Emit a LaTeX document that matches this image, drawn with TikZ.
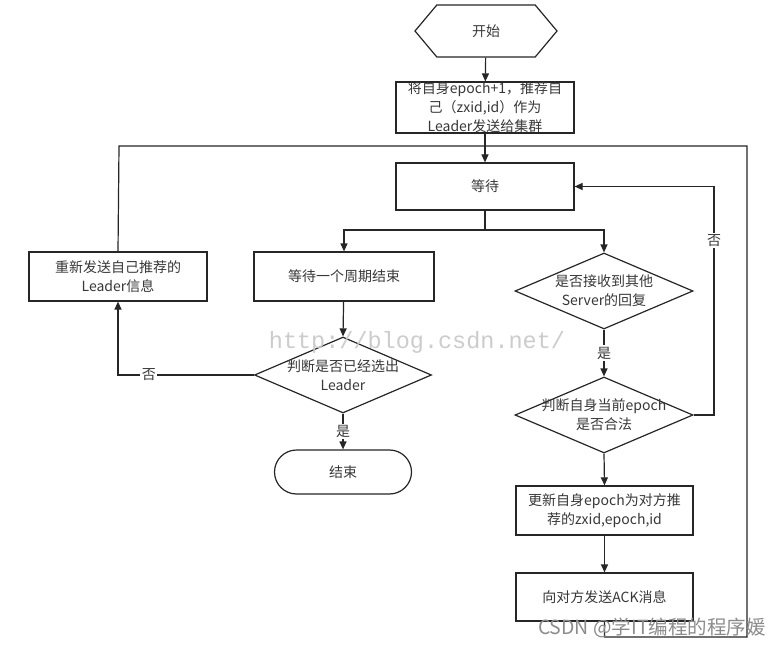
\documentclass[tikz,border=0pt]{standalone}
\usepackage{fontspec}
\setmainfont{Noto Sans CJK SC}
\newfontfamily\wmfont{Liberation Mono}
\usetikzlibrary{shapes.geometric,shapes.misc,shapes.symbols,arrows.meta}
\begin{document}
\begin{tikzpicture}[x=1pt,y=-1pt,
  every node/.style={inner sep=0pt, align=center, text=black!78, font=\fontsize{14}{19}\selectfont},
  box/.style={draw=black!85, line width=1.2pt, minimum width=178pt, minimum height=48pt, fill=white},
  dia/.style={diamond, draw=black!85, line width=1.2pt, minimum width=178pt, minimum height=76pt, fill=white},
  conn/.style={draw=black!85, line width=1.2pt},
  arr/.style={conn, -{Triangle[length=8pt,width=7pt]}},
  lbl/.style={fill=white, inner sep=1.5pt},
]
\useasboundingbox (0,0) rectangle (779,647);
\fill[white] (0,0) rectangle (779,647);

% nodes
\node[signal, signal to=east and west, signal pointer angle=100, draw=black!85, line width=1.2pt,
      minimum width=142pt, minimum height=52pt, fill=white] (start) at (486,31) {开始};
\node[box, minimum height=49pt] (b1) at (485,107.5) {将自身epoch+1，推荐自\\己（zxid,id）作为\\Leader发送给集群};
\node[box, minimum height=47pt] (wait) at (485,186.5) {等待};
\node[box, minimum width=180pt, minimum height=49pt] (period) at (344,276.5) {等待一个周期结束};
\node[box, minimum height=49pt] (retry) at (118,276.5) {重新发送自己推荐的\\Leader信息};
\node[dia, minimum width=177pt] (d1) at (343,375) {};
\node at (d1) {判断是否已经选出\\Leader};
\node[rounded rectangle, draw=black!85, line width=1.2pt, minimum width=137pt, minimum height=44pt, fill=white] (end) at (343,472) {结束};
\node[dia] (d2) at (604,291) {};
\node at (d2) {是否接收到其他\\Server的回复};
\node[dia] (d3) at (604,415) {};
\node at (d3) {判断自身当前epoch\\是否合法};
\node[box, minimum width=177pt, minimum height=49pt] (upd) at (604.5,510.5) {更新自身epoch为对方推\\荐的zxid,epoch,id};
\node[box, minimum width=177pt, minimum height=48pt] (ack) at (604.5,597) {向对方发送ACK消息};

% coordinates
\coordinate (tl) at (119,146);
\coordinate (tr) at (747,146);
\coordinate (br) at (747,637);
\coordinate (fork) at (485,230);
\coordinate (rn) at (714,186.5);

% connectors
\draw[arr] (start) -- (b1);
\draw[arr] (b1) -- (wait);
\draw[conn] (retry.north) -- (tl) -- (tr) -- (br) -- (ack.south |- br) -- (ack.south);
\draw[conn] (wait.south) -- (fork);
\draw[arr] (fork) -| (period.north);
\draw[arr] (fork) -| (d2.north);
\draw[arr] (period) -- (d1.north);
\draw[arr] (d1.west) -| node[lbl, pos=0.386] {否} (retry.south);
\draw[arr] (d1.south) -- node[lbl] {是} (end.north);
\draw[arr] (d2.south) -- node[lbl] {是} (d3.north);
\draw[arr] (d3.east) -| node[lbl, pos=0.882] {否} (rn) -- (wait.east);
\draw[arr] (d3.south) -- (upd.north);
\draw[arr] (upd) -- (ack);

% watermarks
\node[text=black!22, text opacity=0.9, font=\wmfont\fontsize{23.5}{25}\selectfont] (wm) at (417,342) {http://blog.csdn.net/};
\node[text=black!45, font=\fontsize{19.5}{20}\selectfont, anchor=east] (csdn) at (766,628) {CSDN @学IT编程的程序媛};
\end{tikzpicture}
\end{document}
